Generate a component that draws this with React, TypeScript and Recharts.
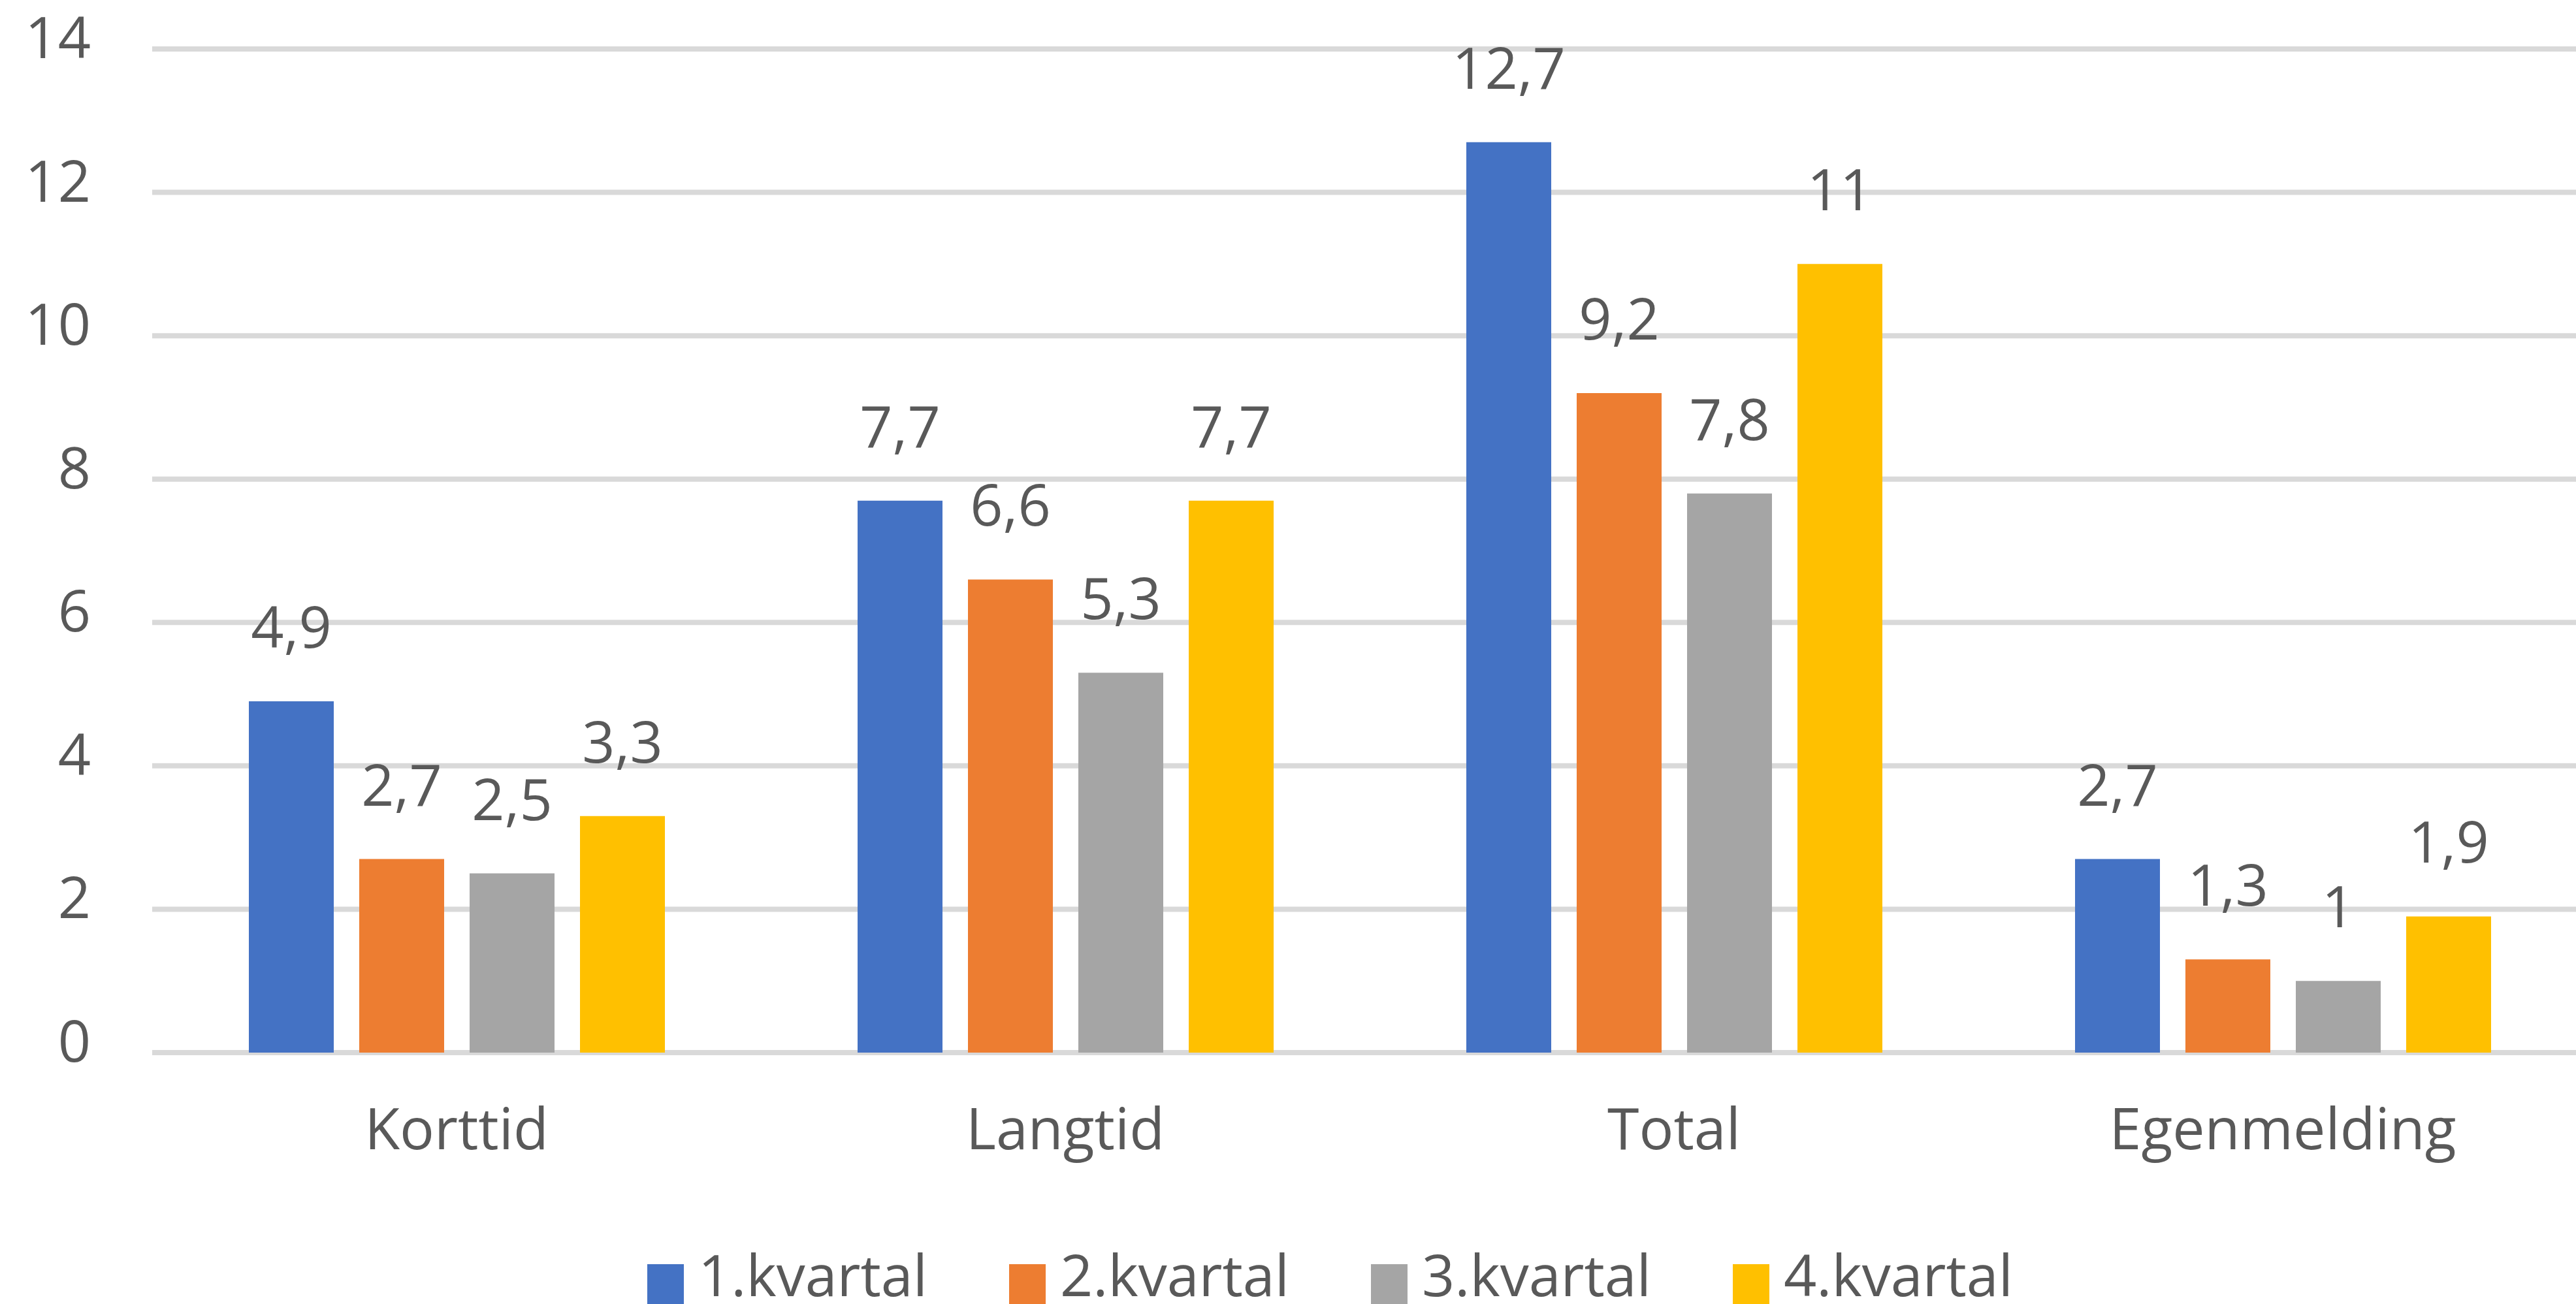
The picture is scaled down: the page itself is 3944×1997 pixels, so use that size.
import { BarChart, Bar, XAxis, YAxis, CartesianGrid, LabelList } from 'recharts';

const categories = ['Korttid', 'Langtid', 'Total', 'Egenmelding'];
const kvartal1 = [4.9, 7.7, 12.7, 2.7];
const kvartal2 = [2.7, 6.6, 9.2, 1.3];
const kvartal3 = [2.5, 5.3, 7.8, 1];
const kvartal4 = [3.3, 7.7, 11, 1.9];
const seriesKeys = ['q1', 'q2', 'q3', 'q4'];
const seriesNames = ['1.kvartal', '2.kvartal', '3.kvartal', '4.kvartal'];
const yTicks = [0, 2, 4, 6, 8, 10, 12, 14];

const COLORS = ['#4472C4', '#ED7D31', '#A5A5A5', '#FFC000'];
const TEXT = '#595959';
const FONT = '"Open Sans", sans-serif';
const FS = 88;

const data = categories.map((name, i) => ({
    name,
    q1: kvartal1[i],
    q2: kvartal2[i],
    q3: kvartal3[i],
    q4: kvartal4[i],
}));

const fmt = (v: any) => String(v).replace('.', ',');

const YTick = (props: any) => (
    <text x={props.x} y={props.y + 14} textAnchor="end" fill={TEXT} fontSize={FS} fontFamily={FONT}>
        {props.payload.value}
    </text>
);

const XTick = (props: any) => (
    <text x={props.x} y={props.y + 148} textAnchor="middle" fill={TEXT} fontSize={FS} fontFamily={FONT}>
        {props.payload.value}
    </text>
);

const ValueLabel = (props: any) => {
    const x = props.x ?? props.viewBox?.x;
    const y = props.y ?? props.viewBox?.y;
    const w = props.width ?? props.viewBox?.width;
    return (
        <text x={x + w / 2} y={y - 82} textAnchor="middle" fill={TEXT} fontSize={FS} fontFamily={FONT}>
            {fmt(props.value)}
        </text>
    );
};

export default function App() {
    return (
        <div style={{ position: 'absolute', left: 0, top: 0, width: 3944, height: 1997, overflow: 'hidden', background: '#fff' }}>
            <BarChart
                width={4100}
                height={1997}
                data={data}
                margin={{ top: 75, right: 139, left: 0, bottom: 235 }}
                barCategoryGap={148}
                barGap={39}
            >
                <CartesianGrid vertical={false} stroke="#D9D9D9" strokeWidth={8} />
                <XAxis
                    dataKey="name"
                    height={150}
                    axisLine={false}
                    tickLine={false}
                    tickSize={0}
                    tickMargin={0}
                    tick={<XTick />}
                    interval={0}
                />
                <YAxis
                    width={233}
                    domain={[0, 14]}
                    ticks={yTicks}
                    axisLine={false}
                    tickLine={false}
                    tickSize={0}
                    tickMargin={94}
                    tick={<YTick />}
                />
                {seriesKeys.map((k, i) => (
                    <Bar key={k} dataKey={k} name={seriesNames[i]} fill={COLORS[i]} isAnimationActive={false}>
                        <LabelList dataKey={k} content={<ValueLabel />} />
                    </Bar>
                ))}
            </BarChart>
            {/* legend sits partly below the picture's bottom edge, as in the source */}
            {seriesNames.map((name, i) => (
                <div key={name}>
                    <div style={{ position: 'absolute', left: 991 + i * 554, top: 1936, width: 56, height: 61, background: COLORS[i] }} />
                    <div
                        style={{
                            position: 'absolute',
                            left: 1069 + i * 554,
                            top: 1907,
                            fontFamily: FONT,
                            fontSize: FS,
                            lineHeight: '88px',
                            color: TEXT,
                            whiteSpace: 'nowrap',
                        }}
                    >
                        {name}
                    </div>
                </div>
            ))}
        </div>
    );
}
